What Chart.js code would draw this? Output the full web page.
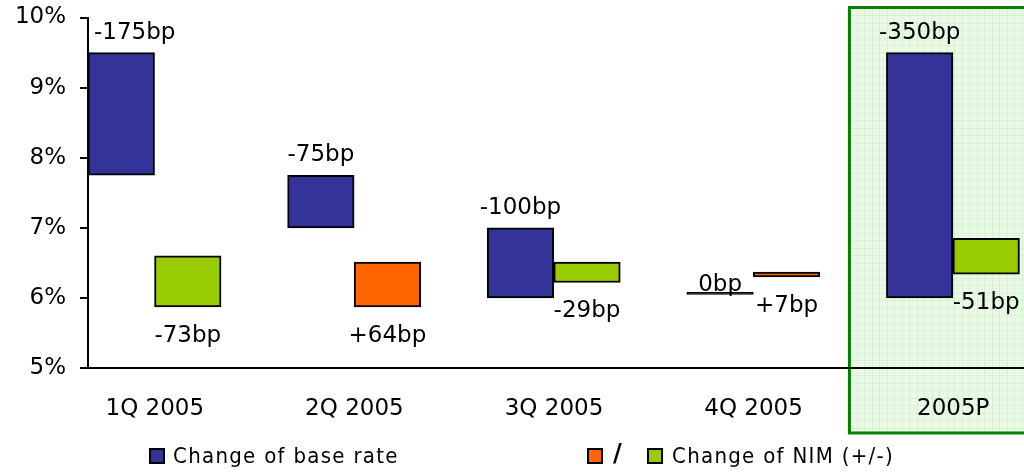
<!DOCTYPE html>
<html>
<head>
<meta charset="utf-8">
<script src="https://cdn.jsdelivr.net/npm/chart.js@4/dist/chart.umd.min.js"></script>
<style>
  html, body { margin: 0; padding: 0; background: #fff; overflow: hidden; }
  #wrap { position: relative; width: 1024px; height: 473px; overflow: hidden; }
  canvas { position: absolute; left: 0; top: 0; }
  .legend { position: absolute; top: 442px; font: 22px "DejaVu Sans Condensed", "DejaVu Sans", sans-serif; letter-spacing: 1.3px; color: #000; line-height: 28px; white-space: nowrap; }
  .sw { position: absolute; top: 448px; width: 12px; height: 12px; border: 2px solid #000; }
  .slash { position: absolute; top: 439px; left: 613px; font: bold 24px "DejaVu Sans", sans-serif; }
</style>
</head>
<body>
<div id="wrap">
  <canvas id="chartRates" width="1086" height="473"></canvas>
  <div class="sw" style="left:149px;background:#333399"></div>
  <div class="legend" style="left:173px">Change of base rate</div>
  <div class="sw" style="left:587px;background:#ff6600"></div>
  <div class="slash">/</div>
  <div class="sw" style="left:647px;background:#99cc00"></div>
  <div class="legend" style="left:672px">Change of NIM (+/-)</div>
</div>
<script>
// Quarters and the full-year projection
const categories = ["1Q 2005", "2Q 2005", "3Q 2005", "4Q 2005", "2005P"];

// Base rate, start and end of each period (%)
const baseStart = [9.50, 7.75, 7.00, 6.05, 9.50];
const baseEnd   = [7.75, 7.00, 6.00, 6.05, 6.00];

// Net interest margin, start and end of each period (%)
const nimStart = [6.60, 5.87, 6.51, 6.30, 6.85];
const nimEnd   = [5.87, 6.51, 6.22, 6.37, 6.34];

const yTicks = [5, 6, 7, 8, 9, 10];
const projectedIndex = 4;

function bp(start, end) {
  const v = Math.round((end - start) * 100);
  return (v > 0 ? "+" : "") + v + "bp";
}

Chart.defaults.font.family = '"DejaVu Sans", sans-serif';
Chart.defaults.font.size = 23;
Chart.defaults.color = "#000";

// shaded frame behind the projected year
const projBox = {
  id: "projBox",
  beforeDraw(chart) {
    const { ctx, chartArea, scales } = chart;
    const x = scales.x;
    const cat = x.getPixelForValue(1) - x.getPixelForValue(0);
    const left = x.getPixelForValue(projectedIndex) - cat / 2 - 37;
    const top = chartArea.top - 10;
    const bottom = chartArea.bottom + 65;
    const right = chart.width + 10;
    ctx.save();
    ctx.fillStyle = "#e9f9e6";
    ctx.fillRect(left, top, right - left, bottom - top);
    ctx.strokeStyle = "rgba(175,225,175,0.3)";
    ctx.lineWidth = 1;
    ctx.beginPath();
    for (let gx = left + 7.5; gx < right; gx += 7.5) {
      ctx.moveTo(Math.round(gx) + 0.5, top);
      ctx.lineTo(Math.round(gx) + 0.5, bottom);
    }
    for (let gy = top + 7.5; gy < bottom; gy += 7.5) {
      ctx.moveTo(left, Math.round(gy) + 0.5);
      ctx.lineTo(right, Math.round(gy) + 0.5);
    }
    ctx.stroke();
    ctx.strokeStyle = "#008000";
    ctx.lineWidth = 3;
    ctx.strokeRect(left, top, right - left, bottom - top);
    ctx.restore();
  }
};

// bp labels above the base-rate bars and below the NIM bars
const barLabels = {
  id: "barLabels",
  afterDatasetsDraw(chart) {
    const { ctx, chartArea, scales } = chart;
    const y = scales.y;
    ctx.save();
    ctx.font = '23px "DejaVu Sans", sans-serif';
    ctx.fillStyle = "#000";
    ctx.textAlign = "center";
    ctx.textBaseline = "alphabetic";
    chart.getDatasetMeta(0).data.forEach((bar, i) => {
      const txt = bp(baseStart[i], baseEnd[i]);
      const w = ctx.measureText(txt).width;
      const top = y.getPixelForValue(Math.max(baseStart[i], baseEnd[i]));
      const gap = baseStart[i] === baseEnd[i] ? 3 : 14;
      const x = Math.max(bar.x, chartArea.left + w / 2 + 6);
      ctx.fillText(txt, x, top - gap);
    });
    chart.getDatasetMeta(1).data.forEach((bar, i) => {
      const txt = bp(nimStart[i], nimEnd[i]);
      const bottom = y.getPixelForValue(Math.min(nimStart[i], nimEnd[i]));
      ctx.fillText(txt, bar.x, bottom + 35);
    });
    ctx.restore();
  }
};

const ctx = document.getElementById("chartRates");

new Chart(ctx, {
  type: "bar",
  data: {
    labels: categories,
    datasets: [
      {
        label: "Change of base rate",
        data: baseStart.map((s, i) => [s, baseEnd[i]]),
        backgroundColor: (c) => baseStart[c.dataIndex] === baseEnd[c.dataIndex] ? "#000" : "#333399",
        borderColor: "#000",
        borderWidth: 2,
        borderSkipped: false,
        minBarLength: 2,
        barPercentage: 1,
        categoryPercentage: 1,
      },
      {
        label: "Change of NIM (+/-)",
        data: nimStart.map((s, i) => [s, nimEnd[i]]),
        backgroundColor: (c) => nimEnd[c.dataIndex] > nimStart[c.dataIndex] ? "#ff6600" : "#99cc00",
        borderColor: "#000",
        borderWidth: 2,
        borderSkipped: false,
        barPercentage: 1,
        categoryPercentage: 1,
      },
      {
        // empty slot to keep the pair on the left of each category
        label: "",
        data: categories.map(() => null),
        barPercentage: 1,
        categoryPercentage: 1,
      },
    ],
  },
  options: {
    responsive: false,
    animation: false,
    layout: { padding: { top: 17.5, left: 0, right: 0, bottom: 0 } },
    plugins: {
      legend: { display: false },
      tooltip: { enabled: false },
    },
    scales: {
      x: {
        afterFit: (s) => { s.height = 105; },
        grid: { display: false, drawTicks: false },
        border: { display: true, color: "#000", width: 2 },
        ticks: { padding: 27, labelOffset: -33, maxRotation: 0 },
      },
      y: {
        min: yTicks[0],
        max: yTicks[yTicks.length - 1],
        afterFit: (s) => { s.width = 88; s.paddingTop = 0; s.paddingBottom = 0; },
        afterBuildTicks: (s) => { s.ticks = yTicks.map((v) => ({ value: v })); },
        grid: { drawOnChartArea: false, tickLength: 8, color: "#000", lineWidth: 2 },
        border: { color: "#000", width: 2 },
        ticks: { padding: 14, callback: (v) => v + "%" },
      },
    },
  },
  plugins: [projBox, barLabels],
});
</script>
</body>
</html>
